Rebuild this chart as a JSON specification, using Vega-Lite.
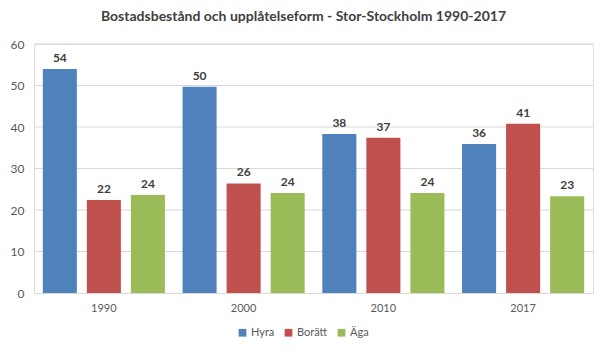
{
  "$schema": "https://vega.github.io/schema/vega-lite/v6.json",
  "width": 559,
  "height": 249,
  "autosize": {"type": "none"},
  "padding": {"left": 34, "top": 44, "right": 12, "bottom": 63},
  "background": "white",
  "title": {
    "text": "Bostadsbestånd och upplåtelseform - Stor-Stockholm 1990-2017",
    "font": "Lato",
    "fontSize": 14,
    "fontWeight": "bold",
    "color": "#404040",
    "anchor": "middle",
    "dx": -10,
    "offset": 14
  },
  "resolve": {"axis": {"y": "independent"}},
  "layer": [
    {
      "data": {"values": [{"grid": 10}, {"grid": 20}, {"grid": 30}, {"grid": 40}, {"grid": 50}, {"grid": 60}]},
      "mark": {"type": "rule", "color": "#d9d9d9", "strokeWidth": 1},
      "encoding": {
        "y": {"field": "grid", "type": "quantitative", "scale": {"domain": [0, 60]}, "axis": null}
      }
    },
    {
      "data": {
        "values": [
          {"year": "1990", "type": "Hyra", "value": 54.0},
          {"year": "1990", "type": "Borätt", "value": 22.4},
          {"year": "1990", "type": "Äga", "value": 23.6},
          {"year": "2000", "type": "Hyra", "value": 49.7},
          {"year": "2000", "type": "Borätt", "value": 26.4},
          {"year": "2000", "type": "Äga", "value": 24.1},
          {"year": "2010", "type": "Hyra", "value": 38.3},
          {"year": "2010", "type": "Borätt", "value": 37.4},
          {"year": "2010", "type": "Äga", "value": 24.1},
          {"year": "2017", "type": "Hyra", "value": 35.9},
          {"year": "2017", "type": "Borätt", "value": 40.8},
          {"year": "2017", "type": "Äga", "value": 23.3}
        ]
      },
      "encoding": {
        "x": {
          "field": "year",
          "type": "nominal",
          "scale": {"paddingInner": 0, "paddingOuter": 0},
          "axis": {
            "title": null,
            "labelAngle": 0,
            "ticks": false,
            "grid": false,
            "domainColor": "#d9d9d9",
            "labelColor": "#595959",
            "labelFont": "Lato",
            "labelFontSize": 11,
            "labelPadding": 9
          }
        },
        "xOffset": {
          "field": "type",
          "type": "nominal",
          "sort": ["Hyra", "Borätt", "Äga"],
          "scale": {"paddingInner": 0.227, "paddingOuter": 0.2}
        },
        "y": {
          "field": "value",
          "type": "quantitative",
          "scale": {"domain": [0, 60]},
          "axis": {
            "title": null,
            "orient": "left",
            "values": [0, 10, 20, 30, 40, 50, 60],
            "grid": false,
            "domain": false,
            "ticks": false,
            "labelColor": "#595959",
            "labelFont": "Lato",
            "labelFontSize": 12,
            "labelPadding": 10
          }
        }
      },
      "layer": [
        {
          "mark": {"type": "bar"},
          "encoding": {
            "color": {
              "field": "type",
              "type": "nominal",
              "sort": ["Hyra", "Borätt", "Äga"],
              "scale": {"domain": ["Hyra", "Borätt", "Äga"], "range": ["#4f81bd", "#c0504d", "#9bbb59"]},
              "legend": {
                "title": null,
                "orient": "none",
                "legendX": 203,
                "legendY": 283,
                "direction": "horizontal",
                "symbolType": "square",
                "symbolSize": 60,
                "symbolStrokeWidth": 0,
                "labelColor": "#595959",
                "labelFont": "Lato",
                "labelFontSize": 11,
                "columnPadding": 8,
                "labelOffset": 3
              }
            }
          }
        },
        {
          "mark": {"type": "text", "dy": -11, "font": "Lato", "fontSize": 12, "fontWeight": "bold", "color": "#404040"},
          "encoding": {
            "text": {"field": "value", "type": "quantitative", "format": ".0f"}
          }
        }
      ]
    }
  ]
}
